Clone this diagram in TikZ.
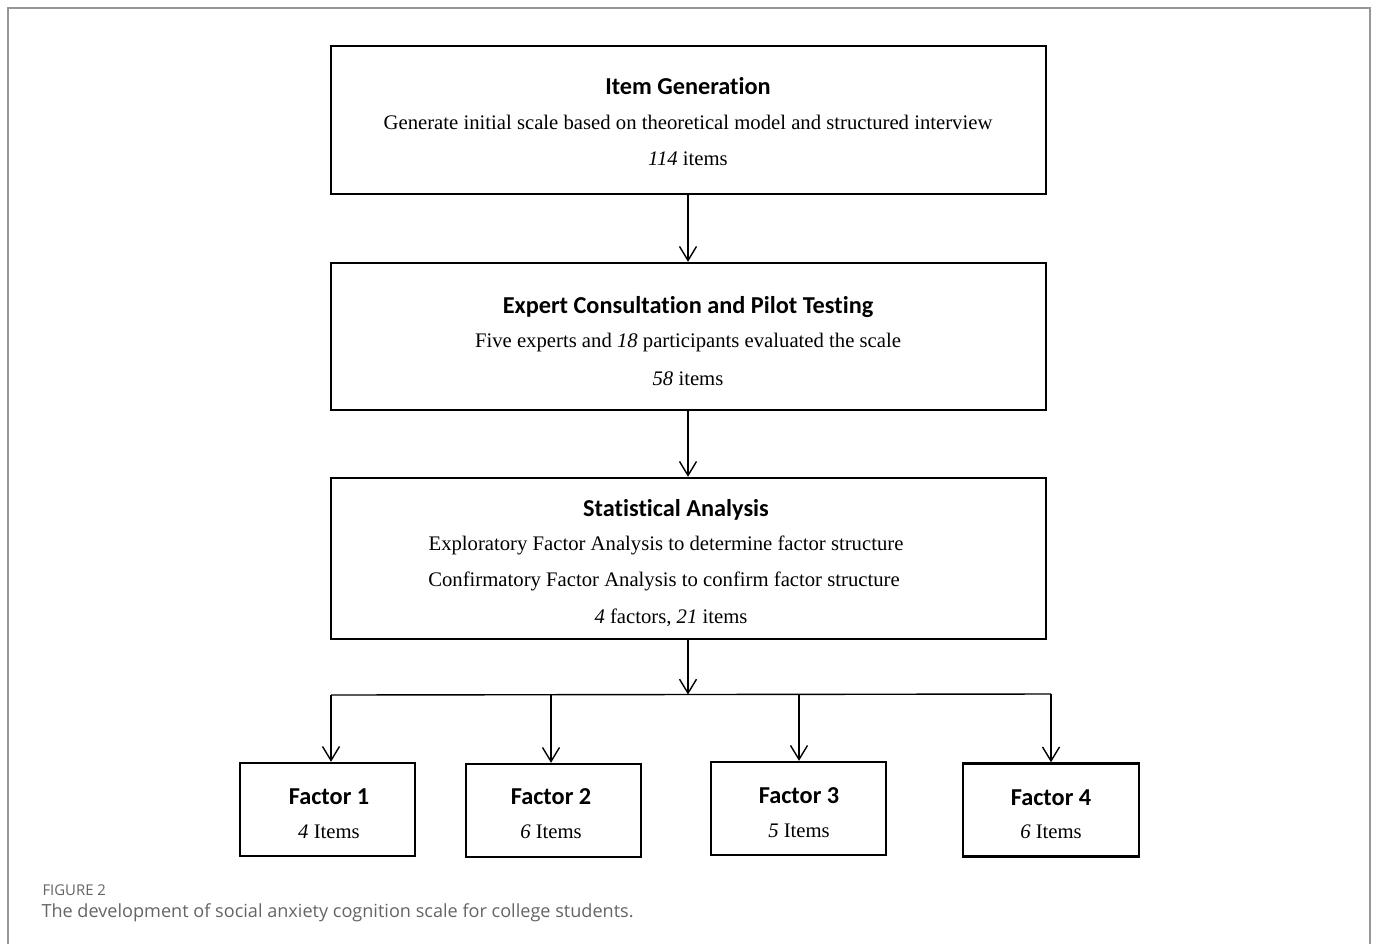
\documentclass[tikz,border=0pt]{standalone}
\usepackage{fontspec}
\setmainfont{Liberation Serif}
\newfontfamily\titlefont[Ligatures=NoCommon]{Carlito}
\newfontfamily\capfont{Open Sans}
\usetikzlibrary{arrows.meta}
\definecolor{framegray}{RGB}{150,150,150}
\definecolor{capgray}{RGB}{100,100,100}
\tikzset{
  x=1pt,y=-1pt,
  stagebox/.style={draw,line width=2.4pt,minimum width=715pt,inner sep=0pt},
  factorbox/.style={draw,line width=2.4pt,minimum width=175pt,minimum height=93pt,inner sep=0pt},
  ttl/.style={font=\titlefont\bfseries\fontsize{24.3}{28}\selectfont},
  body/.style={font=\fontsize{20.7}{24}\selectfont},
  conn/.style={line width=1.4pt,-{Straight Barb[length=14pt,width=17pt,line width=1.4pt]}},
  plain/.style={line width=1.4pt}
}
\begin{document}
\begin{tikzpicture}
\useasboundingbox (0,0) rectangle (1375,943);
\draw[framegray,line width=1.3pt] (8,945) -- (8,8) -- (1370,8) -- (1370,945);
% stage boxes
\node[stagebox,minimum height=148pt] (b1) at (688.5,120) {};
\node[stagebox,minimum height=147pt] (b2) at (688.5,336.5) {};
\node[stagebox,minimum height=161pt] (b3) at (688.5,558.5) {};
\node[ttl] (t1) at (688,86.5) {Item Generation};
\node[body] (l1a) at (688,122.5) {Generate initial scale based on theoretical model and structured interview};
\node[body] (l1b) at (688,158.5) {\textit{114} items};
\node[ttl] (t2) at (688,307.5) {Expert Consultation and Pilot Testing};
\node[body] (l2a) at (688,342.5) {Five experts and \textit{18} participants evaluated the scale};
\node[body] (l2b) at (688,378.5) {\textit{58} items};
\node[ttl] (t3) at (676,509.5) {Statistical Analysis};
\node[body] (l3a) at (666,545.5) {Exploratory Factor Analysis to determine factor structure};
\node[body] (l3b) at (664,581.5) {Confirmatory Factor Analysis to confirm factor structure};
\node[body] (l3c) at (671,617.5) {\textit{4} factors, \textit{21} items};
% factor boxes
\node[factorbox] (f1) at (327.5,809.5) {};
\node[factorbox] (f2) at (553.5,810.5) {};
\node[factorbox] (f3) at (798.5,808.5) {};
\node[factorbox,minimum width=176pt] (f4) at (1051,810) {};
\node[ttl] (f1t) at (329,796.5) {Factor 1};
\node[body] (f1i) at (329,831.5) {\textit{4} Items};
\node[ttl] (f2t) at (551,796.5) {Factor 2};
\node[body] (f2i) at (551,831.5) {\textit{6} Items};
\node[ttl] (f3t) at (799,795.5) {Factor 3};
\node[body] (f3i) at (799,830.5) {\textit{5} Items};
\node[ttl] (f4t) at (1051,797.5) {Factor 4};
\node[body] (f4i) at (1051,831.5) {\textit{6} Items};
% connectors
\coordinate (hl) at (331,695);
\coordinate (hr) at (1051,694);
\coordinate (hm) at (688,694.5);
\coordinate (h2) at (551,694.8);
\coordinate (h3) at (799,694.3);
\draw[conn] (b1.south -| 688,0) -- (b2.north -| 688,0);
\draw[conn] (b2.south -| 688,0) -- (b3.north -| 688,0);
\draw[conn] (b3.south -| 688,0) -- (hm);
\draw[plain] (hl) -- (hr);
\draw[conn] (hl) -- (f1.north -| hl);
\draw[conn] (h2) -- (f2.north -| h2);
\draw[conn] (h3) -- (f3.north -| h3);
\draw[conn] (hr) -- (f4.north -| hr);
% caption
\node[anchor=west,text=capgray,font=\capfont\fontsize{14.9}{17}\selectfont] (fig) at (39,890) {FIGURE 2};
\node[anchor=west,text=capgray,font=\capfont\fontsize{18.1}{21}\selectfont] (cap) at (38,913) {The development of social anxiety cognition scale for college students.};
\end{tikzpicture}
\end{document}
